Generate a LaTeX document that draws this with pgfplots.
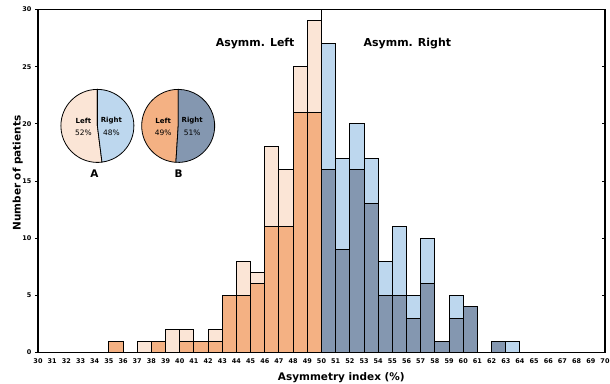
\documentclass[border=0pt]{standalone}
\usepackage{pgfplots}
\pgfplotsset{compat=1.18}
\usepackage{fontspec}
\setmainfont{DejaVu Sans}
\definecolor{lorange}{HTML}{FBE5D6}
\definecolor{dorange}{HTML}{F4B183}
\definecolor{lblue}{HTML}{BDD7EE}
\definecolor{dblue}{HTML}{8497B0}
\begin{document}
\begin{tikzpicture}
\begin{axis}[
  scale only axis, width=567bp, height=343bp,
  xmin=30, xmax=70, ymin=0, ymax=30,
  xtick={30,...,70}, ytick={0,5,...,30},
  ytick pos=left, xtick pos=bottom,
  tick align=outside,
  major tick length=3bp,
  x tick style={draw=none},
  y tick style={line width=0.8bp, black},
  axis line style={line width=1.3bp},
  tick label style={font=\fontsize{6.5}{7}\selectfont\bfseries},
  /pgf/number format/assume math mode=true,
  xlabel={Asymmetry index (\%)}, ylabel={Number of patients},
  label style={font=\fontsize{10.5}{12}\selectfont\bfseries},
  xlabel style={at={(axis description cs:0.535,-0.0808)}, anchor=base},
  ylabel style={at={(axis description cs:-0.0305,0.523)}, anchor=base},
]
\coordinate (BL) at (rel axis cs:0,0);
\coordinate (TR) at (rel axis cs:1,1);
\addplot[ybar, bar width=1, bar shift=0pt, fill=lorange, draw=black, line width=1bp]
 coordinates {(35.5,1) (37.5,1) (38.5,1) (39.5,2) (40.5,2) (41.5,1) (42.5,2) (43.5,5) (44.5,8) (45.5,7) (46.5,18) (47.5,16) (48.5,25) (49.5,29)};
\addplot[ybar, bar width=1, bar shift=0pt, fill=lblue, draw=black, line width=1bp]
 coordinates {(50.5,27) (51.5,17) (52.5,20) (53.5,17) (54.5,8) (55.5,11) (56.5,5) (57.5,10) (58.5,1) (59.5,5) (60.5,4) (62.5,1) (63.5,1)};
\addplot[ybar, bar width=1, bar shift=0pt, fill=dorange, draw=black, line width=1bp]
 coordinates {(35.5,1) (38.5,1) (40.5,1) (41.5,1) (42.5,1) (43.5,5) (44.5,5) (45.5,6) (46.5,11) (47.5,11) (48.5,21) (49.5,21)};
\addplot[ybar, bar width=1, bar shift=0pt, fill=dblue, draw=black, line width=1bp]
 coordinates {(50.5,16) (51.5,9) (52.5,16) (53.5,13) (54.5,5) (55.5,5) (56.5,3) (57.5,6) (58.5,1) (59.5,3) (60.5,4) (62.5,1)};
\addplot[black, line width=1bp] coordinates {(50,0) (50,30)};
\pgfplotsinvokeforeach{5,10,15,20,25}{\draw[line width=0.8bp] (axis cs:70,#1) -- ++(-3bp,0pt);}
\node[font=\fontsize{11}{13}\selectfont\bfseries, anchor=base] at (axis cs:45.32,26.75) {Asymm. Left};
\node[font=\fontsize{11}{13}\selectfont\bfseries, anchor=base] at (axis cs:56.06,26.75) {Asymm. Right};
% pie A
\filldraw[fill=lorange, draw=black, line width=0.8bp] (axis cs:34.19,19.82) -- ++(90:36.5bp) arc[start angle=90, end angle=277.2, radius=36.5bp] -- cycle;
\filldraw[fill=lblue, draw=black, line width=0.8bp] (axis cs:34.19,19.82) -- ++(277.2:36.5bp) arc[start angle=277.2, end angle=450, radius=36.5bp] -- cycle;
\node[font=\fontsize{7}{8}\selectfont\bfseries] at ([shift={(-14bp,5bp)}]axis cs:34.19,19.82) {Left};
\node[font=\fontsize{7.5}{8}\selectfont] at ([shift={(-14bp,-6.5bp)}]axis cs:34.19,19.82) {52\%};
\node[font=\fontsize{7}{8}\selectfont\bfseries] at ([shift={(14bp,5bp)}]axis cs:34.19,19.82) {Right};
\node[font=\fontsize{7.5}{8}\selectfont] at ([shift={(14bp,-6.5bp)}]axis cs:34.19,19.82) {48\%};
\node[font=\fontsize{10.5}{12}\selectfont\bfseries, anchor=base] at ([shift={(-3bp,-51.8bp)}]axis cs:34.19,19.82) {A};
% pie B
\filldraw[fill=dorange, draw=black, line width=0.8bp] (axis cs:39.89,19.82) -- ++(90:36.5bp) arc[start angle=90, end angle=266.4, radius=36.5bp] -- cycle;
\filldraw[fill=dblue, draw=black, line width=0.8bp] (axis cs:39.89,19.82) -- ++(266.4:36.5bp) arc[start angle=266.4, end angle=450, radius=36.5bp] -- cycle;
\node[font=\fontsize{7}{8}\selectfont\bfseries] at ([shift={(-15bp,5bp)}]axis cs:39.89,19.82) {Left};
\node[font=\fontsize{7.5}{8}\selectfont] at ([shift={(-15bp,-6.5bp)}]axis cs:39.89,19.82) {49\%};
\node[font=\fontsize{7}{8}\selectfont\bfseries] at ([shift={(14bp,5bp)}]axis cs:39.89,19.82) {Right};
\node[font=\fontsize{7.5}{8}\selectfont] at ([shift={(14bp,-6.5bp)}]axis cs:39.89,19.82) {51\%};
\node[font=\fontsize{10.5}{12}\selectfont\bfseries, anchor=base] at ([shift={(0.5bp,-51.8bp)}]axis cs:39.89,19.82) {B};
\end{axis}
\pgfresetboundingbox
\path ([shift={(-38bp,-31.5bp)}]BL) rectangle ([shift={(5bp,9.5bp)}]TR);
\end{tikzpicture}
\end{document}
